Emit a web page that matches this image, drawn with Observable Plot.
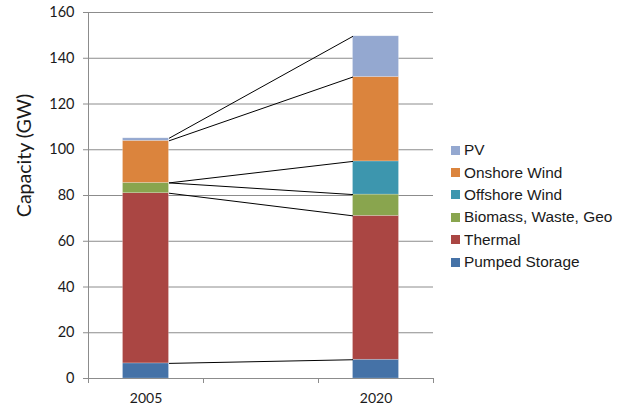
<!DOCTYPE html>
<html>
<head>
<meta charset="utf-8">
<script src="https://cdn.jsdelivr.net/npm/d3@7"></script>
<script src="https://cdn.jsdelivr.net/npm/@observablehq/plot@0.6"></script>
<style>
  html, body { margin: 0; padding: 0; background: #fff; }
  #wrap { position: relative; width: 628px; height: 407px; }
  #legend { position: absolute; left: 451px; top: 139px; font-family: "Liberation Sans", Arial, sans-serif; font-size: 15.4px; color: #1a1a1a; }
  .item { display: flex; align-items: center; height: 22.4px; }
  .sw { width: 9px; height: 9px; margin-right: 4px; }
</style>
</head>
<body>
<div id="wrap"></div>
<script>
// Data
const years = ["2005", "2020"];
const categories = ["2005", "", "2020"]; // middle slot is empty (connector space)
const series = ["Pumped Storage", "Thermal", "Biomass, Waste, Geo", "Offshore Wind", "Onshore Wind", "PV"];
const colors = ["#4572A7", "#AA4643", "#89A54E", "#3D96AE", "#DB843D", "#94A8D0"];
const values2005 = [6.6, 74.4, 4.5, 0, 18.4, 1.1];
const values2020 = [8.2, 62.9, 9.3, 14.5, 36.9, 17.8];
const yTicks = [0, 20, 40, 60, 80, 100, 120, 140, 160];

const valuesByYear = {"2005": values2005, "2020": values2020};
const pad = 0.3; // band padding fraction on each side of a slot

const rows = [];
for (const yr of years) {
  const idx = categories.indexOf(yr);
  valuesByYear[yr].forEach((v, i) => rows.push({year: yr, idx, series: series[i], value: v}));
}

// connectors between segment tops
const tops2005 = d3.cumsum(values2005);
const tops2020 = d3.cumsum(values2020);
const i05 = categories.indexOf("2005"), i20 = categories.indexOf("2020");
const links = series.map((s, i) => ({
  x1: i05 + 1 - pad, y1: tops2005[i],
  x2: i20 + pad, y2: tops2020[i]
}));

const labelIdx = years.map(y => categories.indexOf(y) + 0.5);

const chart = Plot.plot({
  width: 628,
  height: 407,
  marginLeft: 88,
  marginRight: 195,
  marginTop: 12,
  marginBottom: 29,
  style: {fontFamily: "Lato, 'Liberation Sans', sans-serif", fontSize: "14px", color: "#1a1a1a", background: "#fff"},
  x: {type: "linear", domain: [0, categories.length], axis: null},
  y: {domain: [0, 160], axis: null},
  color: {domain: series, range: colors},
  marks: [
    Plot.gridY(yTicks, {stroke: "#8c8c8c", strokeOpacity: 1, strokeWidth: 1}),
    Plot.rectY(rows, Plot.stackY({
      x1: d => d.idx + pad, x2: d => d.idx + 1 - pad,
      y: "value", fill: "series", order: series,
      stroke: "#ffffff", strokeOpacity: 0.35, strokeWidth: 0.6
    })),
    Plot.link(links, {x1: "x1", y1: "y1", x2: "x2", y2: "y2", stroke: "#000", strokeWidth: 1}),
    Plot.ruleX([0], {stroke: "#8c8c8c"}),
    Plot.ruleY([0], {stroke: "#8c8c8c"}),
    Plot.axisY({ticks: yTicks, tickSize: 5, tickPadding: 9, stroke: "#8c8c8c", label: null, fontSize: 14.5, color: "#1a1a1a"}),
    Plot.axisX({ticks: d3.range(categories.length + 1), tickSize: 5, tickFormat: () => "", stroke: "#8c8c8c", label: null}),
    Plot.axisX({ticks: labelIdx, tickSize: 0, tickPadding: 15, tickFormat: (d, i) => years[i], label: null, fontSize: 14}),
    Plot.text(["Capacity (GW)"], {frameAnchor: "left", rotate: -90, dx: -64, dy: -40, textAnchor: "middle", fontSize: 19.5, fill: "#1a1a1a"})
  ]
});

const wrap = document.getElementById("wrap");
wrap.appendChild(chart);

// Legend (top-down: PV first)
const legend = document.createElement("div");
legend.id = "legend";
for (let i = series.length - 1; i >= 0; i--) {
  const it = document.createElement("div");
  it.className = "item";
  const sw = document.createElement("div");
  sw.className = "sw";
  sw.style.background = colors[i];
  const tx = document.createElement("span");
  tx.textContent = series[i];
  it.appendChild(sw);
  it.appendChild(tx);
  legend.appendChild(it);
}
wrap.appendChild(legend);
</script>
</body>
</html>
